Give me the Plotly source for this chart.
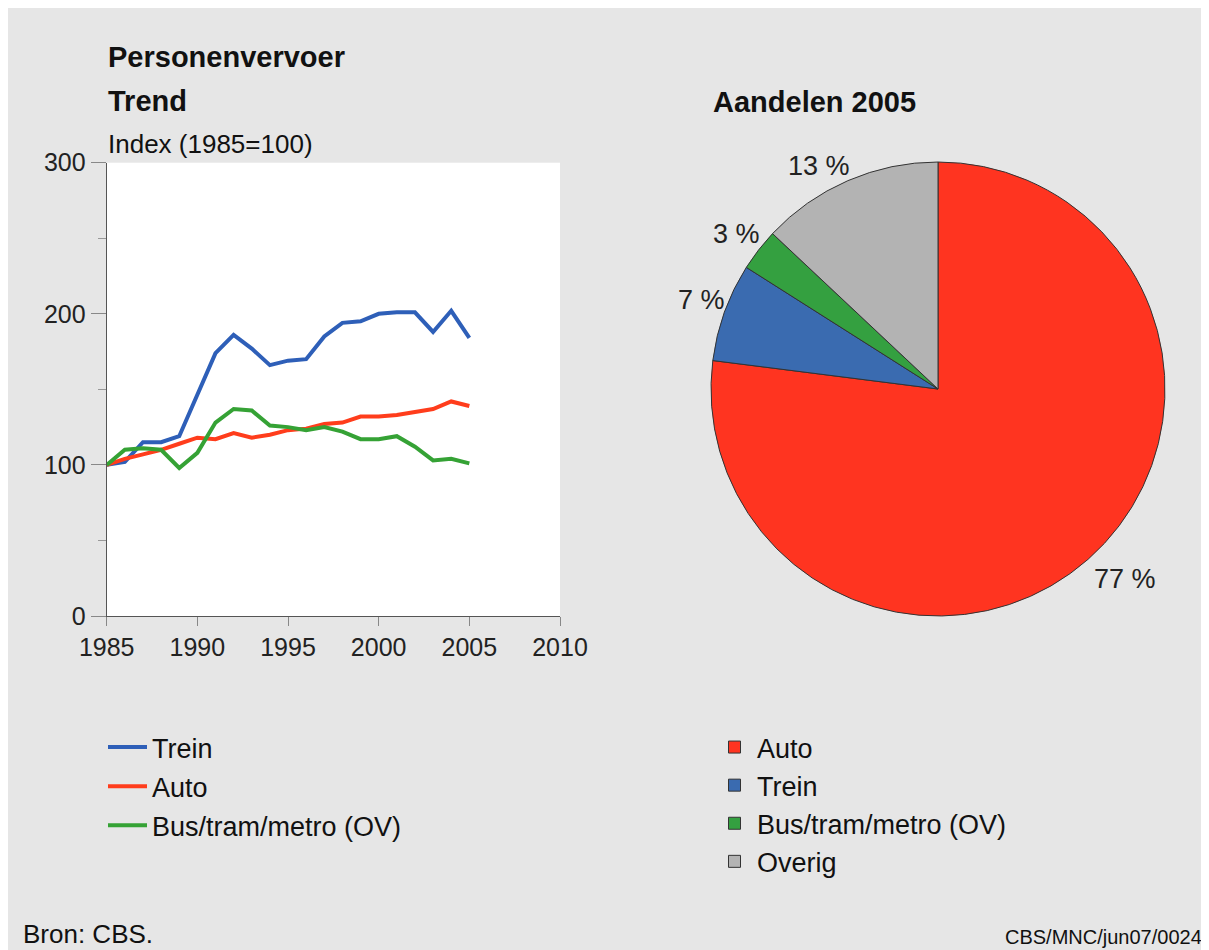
import plotly.graph_objects as go

# ---------------- data ----------------
years = list(range(1985, 2006))
trein = [100, 102, 115, 115, 119, 146, 174, 186, 177, 166, 169, 170, 185, 194, 195, 200, 201, 201, 188, 202, 184]
auto = [100, 104, 107, 110, 114, 118, 117, 121, 118, 120, 123, 124, 127, 128, 132, 132, 133, 135, 137, 142, 139]
ov = [100, 110, 111, 110, 98, 108, 128, 137, 136, 126, 125, 123, 125, 122, 117, 117, 119, 112, 103, 104, 101]

line_names = ["Trein", "Auto", "Bus/tram/metro (OV)"]
line_colors = ["#2E5FB8", "#FF3D1C", "#35A235"]

pie_labels = ["Auto", "Trein", "Bus/tram/metro (OV)", "Overig"]
pie_values = [77, 7, 3, 13]
pie_colors = ["#FF3420", "#3A6BB0", "#34A040", "#B3B3B3"]

x_ticks = [1985, 1990, 1995, 2000, 2005, 2010]
y_ticks = [0, 100, 200, 300]

# ---------------- layout helpers ----------------
W, H = 1209, 950
OFF = 8  # page body margin


def fx(px):
    return (px - OFF) / W


def fy(py):
    return 1 - (py - OFF) / H


FONT = "Liberation Sans, Arial, sans-serif"
BG = "#E6E6E6"

fig = go.Figure()

for name, vals, col in zip(line_names, [trein, auto, ov], line_colors):
    fig.add_trace(go.Scatter(
        x=years, y=vals, name=name, mode="lines",
        line=dict(color=col, width=4),
        legendgroup=name, legend="legend",
        xaxis="x", yaxis="y",
    ))

fig.add_trace(go.Pie(
    labels=pie_labels, values=pie_values, sort=False, direction="clockwise",
    rotation=0, marker=dict(colors=pie_colors, line=dict(color="#333333", width=1)),
    textinfo="none", hoverinfo="label+percent",
    domain=dict(x=[fx(938 - 227), fx(938 + 227)], y=[fy(389 + 227), fy(389 - 227)]),
    legend="legend2", showlegend=True,
))

axis_common = dict(
    showgrid=False, zeroline=False, showline=True, linecolor="#555555", linewidth=1,
    ticks="outside", tickcolor="#888888", tickfont=dict(family=FONT, size=25, color="#222222"),
    fixedrange=True, automargin=False,
)

fig.update_layout(
    width=W, height=H, autosize=False,
    margin=dict(l=0, r=0, t=0, b=0, pad=0, autoexpand=False),
    paper_bgcolor=BG, plot_bgcolor="white",
    font=dict(family=FONT, color="#111111"),
    xaxis=dict(domain=[fx(106.7), fx(560)], range=[1985, 2010], tickvals=x_ticks,
               ticklen=9, anchor="y", **axis_common),
    yaxis=dict(domain=[fy(616), fy(162.7)], range=[0, 300], tickvals=y_ticks,
               ticklen=15, anchor="x",
               minor=dict(tickvals=[50, 150, 250], ticklen=8, tickcolor="#999999", ticks="outside"),
               **axis_common),
    legend=dict(x=fx(103), y=fy(723), xanchor="left", yanchor="top",
                bgcolor="rgba(0,0,0,0)", font=dict(family=FONT, size=27, color="#111111"),
                tracegroupgap=1, itemwidth=39, itemclick=False, itemdoubleclick=False),
    legend2=dict(x=fx(712), y=fy(723), xanchor="left", yanchor="top",
                 bgcolor="rgba(0,0,0,0)", font=dict(family=FONT, size=27, color="#111111"),
                 itemwidth=35, itemclick=False, itemdoubleclick=False),
)

annots = [
    dict(text="<b>Personenvervoer</b>", x=fx(106), y=fy(57), size=29),
    dict(text="<b>Trend</b>", x=fx(106), y=fy(101), size=29),
    dict(text="Index (1985=100)", x=fx(106), y=fy(144), size=26),
    dict(text="<b>Aandelen 2005</b>", x=fx(711), y=fy(102), size=29),
    dict(text="Bron: CBS.", x=fx(21), y=fy(934), size=26),
    dict(text="CBS/MNC/jun07/0024", x=fx(1003), y=fy(937), size=20),
]
for a in annots:
    fig.add_annotation(text=a["text"], x=a["x"], y=a["y"], xref="paper", yref="paper",
                       xanchor="left", yanchor="middle", showarrow=False,
                       font=dict(family=FONT, size=a["size"], color="#111111"))

# percentage labels beside the pie slices
pct_pos = [(1125, 579), (701, 300), (736, 234), (819, 166)]
for val, (px, py) in zip(pie_values, pct_pos):
    fig.add_annotation(text=f"{val} %", x=fx(px), y=fy(py), xref="paper", yref="paper",
                       xanchor="center", yanchor="middle", showarrow=False,
                       font=dict(family=FONT, size=27, color="#222222"))

fig.write_html("out.html", config={"responsive": False})
